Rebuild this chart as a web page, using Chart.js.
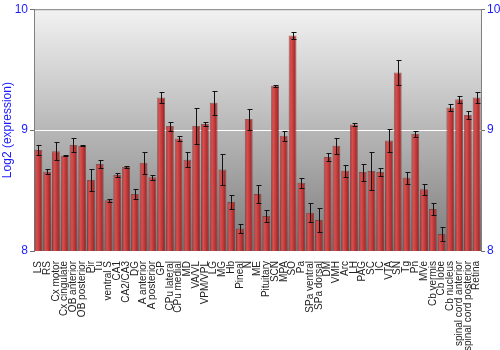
<!DOCTYPE html>
<html><head><meta charset="utf-8">
<script src="https://cdn.jsdelivr.net/npm/chart.js@4/dist/chart.umd.min.js"></script>
<style>html,body{margin:0;padding:0;background:#fff;}#wrap{width:500px;height:350px;}</style>
</head><body><div id="wrap"><canvas id="c" width="500" height="350"></canvas></div>
<script>
const categories = ["LS","RS","Cx motor","Cx cingulate","OB anterior","OB posterior","Pir","Tu","ventral S","CA1","CA2/CA3","DG","A anterior","A posterior","GP","CPu lateral","CPu medial","MD","VA/VL","VPM/VPL","LG","MG","Hb","Pineal","N","ME","Pituitary","SCN","MPA","SO","Pa","SPa ventral","SPa dorsal","DM","VMH","Arc","LH","PAG","SC","IC","VTA","SN","Tg","Pn","MVe","Cb vermis","Cb lobe","Cb nucleus","spinal cord anterior","spinal cord posterior","Retina"];
const values = [8.835,8.655,8.826,8.788,8.876,8.870,8.587,8.719,8.419,8.628,8.694,8.471,8.730,8.610,9.270,9.033,8.931,8.755,9.033,9.050,9.226,8.675,8.405,8.187,9.091,8.471,8.289,9.366,8.953,9.783,8.565,8.317,8.256,8.777,8.870,8.664,9.047,8.653,8.661,8.653,8.915,9.476,8.606,8.967,8.510,8.347,8.140,9.187,9.256,9.124,9.270];
const errors = [0.04,0.02,0.075,0.005,0.055,0.005,0.094,0.03,0.01,0.02,0.005,0.04,0.09,0.02,0.045,0.037,0.02,0.06,0.15,0.02,0.10,0.125,0.06,0.04,0.087,0.075,0.05,0.01,0.04,0.03,0.04,0.08,0.10,0.03,0.067,0.05,0.015,0.07,0.155,0.035,0.094,0.107,0.048,0.028,0.047,0.05,0.058,0.025,0.028,0.03,0.048];
const yTicks = [8, 9, 10];
const yTitle = "Log2 (expression)";

const FONT = "'Liberation Sans', Arial, sans-serif";

const bgPlugin = {
  id: 'bg',
  beforeDraw(chart) {
    const {ctx, chartArea: a} = chart;
    if (!a) return;
    const g = ctx.createLinearGradient(0, a.top, 0, a.bottom);
    g.addColorStop(0, '#f2f2f2');
    g.addColorStop(1, '#7c7c7c');
    ctx.save();
    ctx.fillStyle = g;
    ctx.fillRect(a.left, a.top, a.right - a.left, a.bottom - a.top);
    ctx.strokeStyle = '#808080';
    ctx.lineWidth = 1;
    ctx.beginPath();
    ctx.moveTo(a.left, a.top + 0.5);
    ctx.lineTo(a.right, a.top + 0.5);
    ctx.stroke();
    ctx.restore();
  }
};

const errPlugin = {
  id: 'err',
  afterDatasetsDraw(chart) {
    const {ctx} = chart;
    const meta = chart.getDatasetMeta(0);
    const ys = chart.scales.y;
    ctx.save();
    ctx.strokeStyle = '#111';
    ctx.lineWidth = 1;
    meta.data.forEach((bar, i) => {
      const x = Math.round(bar.x) + 0.5;
      const t = Math.round(ys.getPixelForValue(values[i] + errors[i])) + 0.5;
      const b = Math.round(ys.getPixelForValue(values[i] - errors[i])) + 0.5;
      ctx.beginPath();
      ctx.moveTo(x, t); ctx.lineTo(x, b);
      ctx.moveTo(x - 2, t); ctx.lineTo(x + 3, t);
      ctx.moveTo(x - 2, b); ctx.lineTo(x + 3, b);
      ctx.stroke();
    });
    ctx.restore();
  }
};

function barFill(context) {
  const chart = context.chart;
  const xs = chart.scales && chart.scales.x;
  if (!xs || !chart.chartArea) return '#c03535';
  const cx = xs.getPixelForValue(context.dataIndex);
  const w = 8;
  const g = chart.ctx.createLinearGradient(cx - w / 2, 0, cx + w / 2, 0);
  g.addColorStop(0, '#b03030');
  g.addColorStop(0.3, '#d65050');
  g.addColorStop(0.65, '#bd3535');
  g.addColorStop(1, '#8c1e1e');
  return g;
}

new Chart(document.getElementById('c'), {
  type: 'bar',
  data: {
    labels: categories,
    datasets: [{
      data: values,
      backgroundColor: barFill,
      borderColor: 'rgba(120,25,25,0.6)',
      borderWidth: 1,
      borderSkipped: 'bottom',
      barPercentage: 0.9,
      categoryPercentage: 1.0
    }]
  },
  options: {
    responsive: false,
    animation: false,
    devicePixelRatio: 1,
    layout: { padding: { top: 9, left: 0, right: 0, bottom: 0 } },
    plugins: { legend: { display: false }, tooltip: { enabled: false } },
    scales: {
      x: {
        grid: { display: false },
        border: { display: false },
        ticks: {
          autoSkip: false, maxRotation: 90, minRotation: 90,
          color: '#222', padding: 2,
          font: { family: FONT, size: 10 }
        },
        afterFit(s) { s.height = 99; }
      },
      y: {
        position: 'left',
        min: 8, max: 10,
        afterBuildTicks(s) { s.ticks = yTicks.map(v => ({ value: v })); },
        ticks: { color: '#1a1aff', padding: 2, font: { family: FONT, size: 12 } },
        grid: {
          color: c => (c.tick && c.tick.value === 9) ? '#ffffff' : 'rgba(0,0,0,0)',
          tickColor: '#707070', tickLength: 4, drawTicks: true, lineWidth: 1
        },
        border: { display: true, color: '#808080' },
        title: { display: true, text: yTitle, color: '#1a1aff', padding: 0, font: { family: FONT, size: 12 } },
        afterFit(s) { s.width = 34; }
      },
      y2: {
        position: 'right',
        min: 8, max: 10,
        afterBuildTicks(s) { s.ticks = yTicks.map(v => ({ value: v })); },
        ticks: { color: '#1a1aff', padding: 2, font: { family: FONT, size: 12 } },
        grid: { drawOnChartArea: false, tickColor: '#707070', tickLength: 4 },
        border: { display: true, color: '#808080' },
        afterFit(s) { s.width = 19; }
      }
    }
  },
  plugins: [bgPlugin, errPlugin]
});
</script>
</body></html>
